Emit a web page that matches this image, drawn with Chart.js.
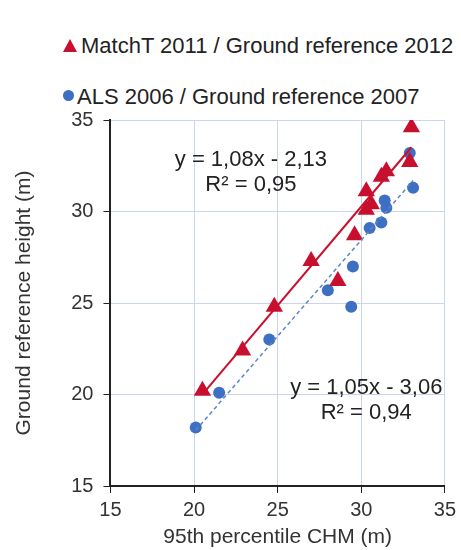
<!DOCTYPE html>
<html>
<head>
<meta charset="utf-8">
<script src="https://cdn.jsdelivr.net/npm/chart.js@4"></script>
<style>
  html, body { margin: 0; padding: 0; background: #fff; }
  body { width: 461px; height: 550px; position: relative; overflow: hidden; font-family: "Liberation Sans", Arial, sans-serif; }
  #wrap { position: absolute; left: 0; top: 0; width: 461px; height: 550px; }
  .leg { position: absolute; font-size: 22px; line-height: 26px; color: #222; white-space: nowrap; }
  .tri { display: inline-block; width: 0; height: 0; border-left: 7px solid transparent; border-right: 7px solid transparent; border-bottom: 13px solid #c8102e; margin-right: 4px; vertical-align: 1px; }
  .dot { display: inline-block; width: 11px; height: 11px; border-radius: 50%; background: #3d6fc2; margin-right: 3px; vertical-align: 3px; }
</style>
</head>
<body>
<div class="leg" style="left:63px; top:33px;"><span class="tri"></span>MatchT 2011 / Ground reference 2012</div>
<div class="leg" style="left:63px; top:84px;"><span class="dot"></span>ALS 2006 / Ground reference 2007</div>
<div id="wrap"><canvas id="chart"></canvas></div>
<script>
// MatchT 2011 / Ground reference 2012
const matchX = [20.5, 22.9, 24.8, 27.0, 28.6, 29.6, 30.3, 30.3, 30.6, 31.2, 31.5, 32.9, 33.0];
const matchY = [20.2, 22.4, 24.8, 27.3, 26.2, 28.7, 30.1, 31.1, 30.4, 31.9, 32.2, 32.7, 34.6];
// ALS 2006 / Ground reference 2007
const alsX = [20.1, 21.5, 24.5, 28.0, 29.5, 29.4, 30.5, 31.2, 31.5, 31.4, 32.9, 33.1];
const alsY = [18.2, 20.1, 23.0, 25.7, 27.0, 24.8, 29.1, 29.4, 30.2, 30.6, 33.2, 31.3];

// trend lines (slope, intercept) as printed on the chart
const matchFit = [1.08, -2.13];
const alsFit = [1.05, -3.06];
const matchFitText = ["y = 1,08x - 2,13", "R² = 0,95"];
const alsFitText = ["y = 1,05x - 3,06", "R² = 0,94"];

const axisTicks = [15, 20, 25, 30, 35];

const pts = (xs, ys) => xs.map((x, i) => ({ x: x, y: ys[i] }));
const fitLine = (xs, f) => {
  const lo = Math.min(...xs), hi = Math.max(...xs);
  return [{ x: lo, y: f[0] * lo + f[1] }, { x: hi, y: f[0] * hi + f[1] }];
};

const red = "#c8102e";
const blue = "#3d6fc2";
const font = "'Liberation Sans', Arial, sans-serif";

const fitLabels = {
  id: "fitLabels",
  afterDatasetsDraw(chart) {
    const { ctx, scales } = chart;
    ctx.save();
    ctx.font = "22px " + font;
    ctx.fillStyle = "#222";
    ctx.textAlign = "center";
    ctx.textBaseline = "middle";
    const put = (lines, x, y) => {
      const px = scales.x.getPixelForValue(x), py = scales.y.getPixelForValue(y);
      ctx.fillText(lines[0], px, py);
      ctx.fillText(lines[1], px, py + 25);
    };
    put(matchFitText, 23.4, 32.8);
    put(alsFitText, 30.3, 20.35);
    ctx.restore();
  }
};

new Chart(document.getElementById("chart").getContext("2d"), {
  type: "scatter",
  data: {
    datasets: [
      { label: "MatchT trend", type: "line", data: fitLine(matchX, matchFit), borderColor: red, borderWidth: 2, pointRadius: 0, fill: false },
      { label: "ALS trend", type: "line", data: fitLine(alsX, alsFit), borderColor: "#5b86cc", borderWidth: 1.5, borderDash: [4, 3], pointRadius: 0, fill: false },
      { label: "MatchT 2011 / Ground reference 2012", data: pts(matchX, matchY), pointStyle: "triangle", pointRadius: 10, backgroundColor: red, borderColor: red, borderWidth: 0 },
      { label: "ALS 2006 / Ground reference 2007", data: pts(alsX, alsY), pointStyle: "circle", pointRadius: 6, backgroundColor: blue, borderColor: blue, borderWidth: 0 }
    ]
  },
  options: {
    responsive: true,
    maintainAspectRatio: false,
    animation: false,
    layout: { padding: { top: 120, left: 12, right: -4, bottom: 2 } },
    plugins: { legend: { display: false }, tooltip: { enabled: false } },
    scales: {
      x: {
        type: "linear", min: 15, max: 35,
        afterBuildTicks: (s) => { s.ticks = axisTicks.map(v => ({ value: v })); },
        ticks: { color: "#333", font: { size: 20, family: font }, padding: 5 },
        grid: { color: "#c9d5ee", lineWidth: 1, tickLength: 7, tickColor: "#222", drawTicks: true },
        border: { color: "#222", width: 2 },
        title: { display: true, text: "95th percentile CHM (m)", color: "#333", font: { size: 21, family: font, lineHeight: 1.0 }, padding: 0 }
      },
      y: {
        type: "linear", min: 15, max: 35,
        afterBuildTicks: (s) => { s.ticks = axisTicks.map(v => ({ value: v })); },
        ticks: { color: "#333", font: { size: 20, family: font }, padding: 10 },
        grid: { color: "#c9d5ee", lineWidth: 1, tickLength: 7, tickColor: "#222", drawTicks: true },
        border: { color: "#222", width: 2 },
        title: { display: true, text: "Ground reference height (m)", color: "#333", font: { size: 21, family: font }, padding: { top: 0, bottom: 24 } }
      }
    }
  },
  plugins: [fitLabels]
});
</script>
</body>
</html>
